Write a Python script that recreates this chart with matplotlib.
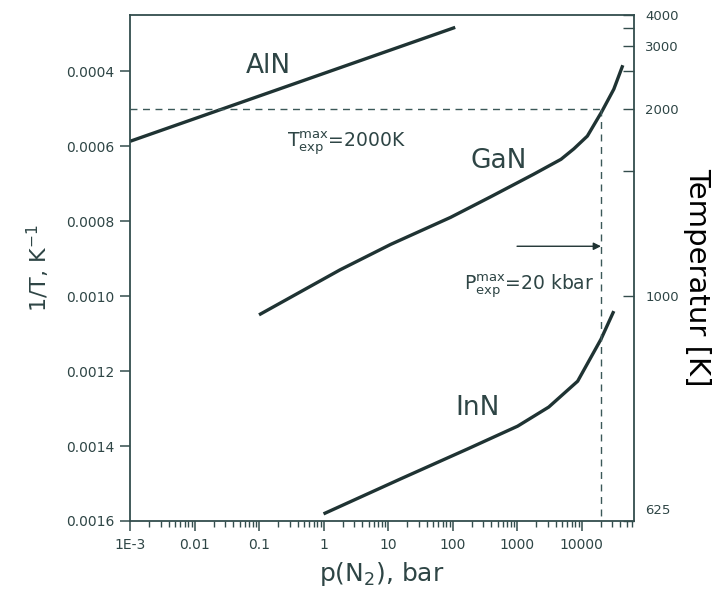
import numpy as np
import matplotlib
matplotlib.use("Agg")
import matplotlib.pyplot as plt
from matplotlib.ticker import FixedLocator, NullFormatter, LogLocator
import matplotlib.transforms as mtransforms

plt.rcParams['font.family'] = ['DejaVu Sans']
plt.rcParams['mathtext.fontset'] = 'dejavusans'

# ---------------- data ----------------
aln_p = [1e-3, 110]
aln_invT = [0.000587, 0.000283]

gan_p = [0.1, 1.8, 11, 93, 390, 1800, 4800, 7600, 12300, 20400, 31600, 43600]
gan_invT = [0.00105, 0.000930, 0.000862, 0.000790, 0.000735, 0.000675,
            0.000635, 0.000607, 0.000573, 0.000509, 0.000448, 0.000384]

inn_p = [1.0, 15.5, 170, 1020, 3100, 8700, 20000, 31600]
inn_invT = [0.001581, 0.001488, 0.001408, 0.001347, 0.001296, 0.001227,
            0.001115, 0.001040]

T_max = 2000.0        # K
P_max = 2.0e4         # bar
arrow_from_p = 1000.0
arrow_invT = 0.000867

x_ticks = [1e-3, 1e-2, 1e-1, 1, 10, 100, 1000, 10000]
x_ticklabels = ['1E-3', '0.01', '0.1', '1', '10', '100', '1000', '10000']
y_ticks = [0.0004, 0.0006, 0.0008, 0.0010, 0.0012, 0.0014, 0.0016]
y_ticklabels = ['0.0004', '0.0006', '0.0008', '0.0010', '0.0012', '0.0014', '0.0016']
temp_ticks = [4000, 3000, 2000, 1000, 625]
temp_minor = [3500, 2500, 1500]

# ---------------- style ----------------
LINE = '#1f3333'
TEXT = '#2e4545'
SPINE = '#334d4d'
DASH = '#3b5858'

fig = plt.figure(figsize=(7.19, 5.97), dpi=100)
ax = fig.add_axes([130/719, 1-521/597, 504/719, 506/597])

for px, py in [(aln_p, aln_invT), (gan_p, gan_invT), (inn_p, inn_invT)]:
    ax.plot(px, py, color=LINE, lw=2.4, solid_capstyle='butt',
            solid_joinstyle='round')

ax.set_xscale('log')
ax.set_xlim(1e-3, 6.5e4)
ax.set_ylim(0.0016, 1/4000)

# dashed guides
ax.plot([1e-3, P_max], [1/T_max, 1/T_max], color=DASH, lw=1.0, ls=(0, (5, 4)))
ax.plot([P_max, P_max], [1/T_max, 0.0016], color=DASH, lw=1.0, ls=(0, (5, 4)))

ax.annotate('', xy=(P_max, arrow_invT), xytext=(arrow_from_p, arrow_invT),
            arrowprops=dict(arrowstyle='-|>', color=LINE, lw=1.0,
                            mutation_scale=11, shrinkA=0, shrinkB=0))

# texts
ax.text(0.14, 0.000387, 'AlN', fontsize=19, color=TEXT, ha='center', va='center')
ax.text(516, 0.00064, 'GaN', fontsize=19, color=TEXT, ha='center', va='center')
ax.text(245, 0.001299, 'InN', fontsize=19, color=TEXT, ha='center', va='center')
ax.text(2.26, 0.000595, r'$\mathregular{T_{exp}^{max}}$=2000K', fontsize=13.5,
        color=TEXT, ha='center', va='center')
ax.text(1510, 0.000976, r'$\mathregular{P_{exp}^{max}}$=20 kbar', fontsize=13.5,
        color=TEXT, ha='center', va='center')

# axes formatting
for s in ax.spines.values():
    s.set_color(SPINE)
    s.set_linewidth(1.3)

ax.xaxis.set_major_locator(FixedLocator(x_ticks))
ax.set_xticklabels(x_ticklabels)
ax.xaxis.set_minor_locator(LogLocator(base=10, subs=np.arange(2, 10)))
ax.xaxis.set_minor_formatter(NullFormatter())
ax.set_yticks(y_ticks)
ax.set_yticklabels(y_ticklabels)
ax.tick_params(axis='x', which='major', direction='out', length=7, width=1.1,
               color=SPINE, labelcolor=TEXT, labelsize=10, pad=5)
ax.tick_params(axis='x', which='minor', direction='out', length=4, width=1.0,
               color=SPINE)
ax.tick_params(axis='y', which='major', direction='out', length=7, width=1.1,
               color=SPINE, labelcolor=TEXT, labelsize=10, pad=4)
ax.tick_params(top=False, right=False)

ax.set_xlabel(r'p(N$_\mathregular{2}$), bar', fontsize=18, color=TEXT, labelpad=6)
ax.set_ylabel(r'1/T, K$^\mathregular{-1}$', fontsize=16, color=TEXT, labelpad=10)

ax2 = ax.twinx()
ax2.set_ylim(ax.get_ylim())
ax2.set_yticks([1/t for t in temp_ticks])
ax2.set_yticklabels([str(t) for t in temp_ticks])
ax2.set_yticks([1/t for t in temp_minor], minor=True)
ax2.tick_params(axis='y', which='both', direction='in', length=8, width=1.0,
                color=SPINE, labelcolor=TEXT, labelsize=9.5, pad=8)
for s in ax2.spines.values():
    s.set_visible(False)
# shift the bottom label (625) slightly up
for lab in ax2.get_yticklabels():
    if lab.get_text() == '625':
        lab.set_transform(lab.get_transform() +
                          mtransforms.ScaledTranslation(0, 12/100, fig.dpi_scale_trans))

fig.text(697/719, 1-277/597, 'Temperatur [K]', rotation=-90, fontsize=21,
         color='black', ha='center', va='center')

fig.savefig('out.png', dpi=100)
